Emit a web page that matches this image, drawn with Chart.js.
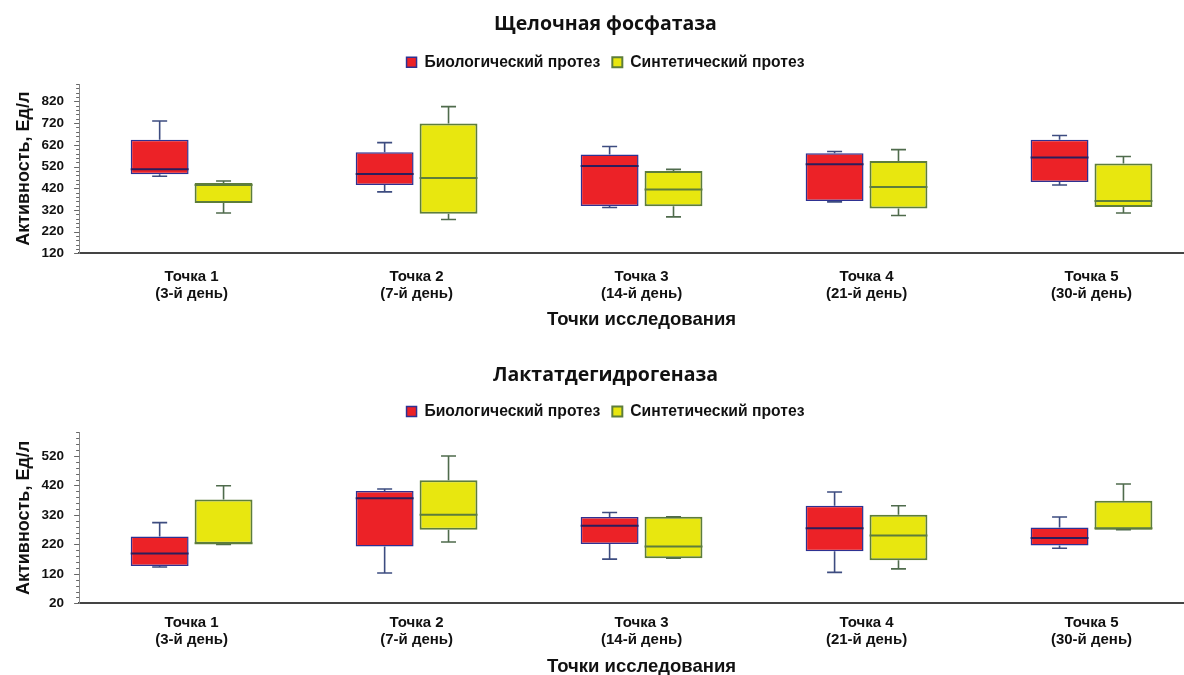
<!DOCTYPE html>
<html>
<head>
<meta charset="utf-8">
<script src="https://cdn.jsdelivr.net/npm/chart.js@4.4.1/dist/chart.umd.min.js"></script>
<style>
  html, body { margin: 0; padding: 0; background: #fff; overflow: hidden; width: 1184px; height: 675px; }
  .wrap { position: absolute; left: 0; width: 1204px; }
  #alpWrap { top: 0; height: 338px; }
  #ldhWrap { top: 338px; height: 340px; }
</style>
</head>
<body>
<div class="wrap" id="alpWrap"><canvas id="alpChart"></canvas></div>
<div class="wrap" id="ldhWrap"><canvas id="ldhChart"></canvas></div>
<script>
// Study points (x categories)
const categories = [
  ['Точка 1', '(3-й день)'],
  ['Точка 2', '(7-й день)'],
  ['Точка 3', '(14-й день)'],
  ['Точка 4', '(21-й день)'],
  ['Точка 5', '(30-й день)']
];
const seriesNames = ['Биологический протез', 'Синтетический протез'];

// Each entry: [min, Q1, median, Q3, max], U/L
const alpBio = [[475, 484, 508, 643, 730], [403, 435, 485, 586, 630], [331, 338, 522, 575, 612], [357, 361, 531, 581, 589], [435, 449, 562, 644, 663]];
const alpSyn = [[306, 352, 435, 444, 453], [276, 302, 467, 718, 796], [288, 337, 414, 499, 507], [294, 326, 426, 545, 598], [306, 334, 361, 534, 566]];
const ldhBio = [[143, 147, 189, 247, 294], [123, 213, 377, 401, 408], [170, 221, 283, 313, 328], [125, 197, 275, 351, 398], [207, 216, 242, 277, 313]];
const ldhSyn = [[220, 222, 224, 372, 419], [228, 270, 321, 438, 520], [173, 173, 213, 314, 314], [137, 166, 250, 321, 351], [270, 270, 275, 368, 425]];

// Y tick labels
const alpTicks = [120, 220, 320, 420, 520, 620, 720, 820];
const ldhTicks = [20, 120, 220, 320, 420, 520];

const FONT = "'Liberation Sans', Arial, sans-serif";

// Whiskers, caps and medians on top of the floating bars (Q1..Q3)
const boxWhiskers = {
  id: 'boxWhiskers',
  afterDatasetsDraw(chart) {
    const ctx = chart.ctx, ys = chart.scales.y;
    chart.data.datasets.forEach((ds, d) => {
      const meta = chart.getDatasetMeta(d);
      if (meta.hidden) return;
      meta.data.forEach((bar, i) => {
        const [mn, q1, md, q3, mx] = ds.stats[i];
        const x = bar.x, half = bar.width / 2, cap = 7.5;
        const pMin = ys.getPixelForValue(mn), pQ1 = ys.getPixelForValue(q1);
        const pMd = ys.getPixelForValue(md), pQ3 = ys.getPixelForValue(q3);
        const pMax = ys.getPixelForValue(mx);
        ctx.save();
        ctx.strokeStyle = ds.whiskerColor;
        ctx.lineWidth = 1.6;
        ctx.beginPath();
        ctx.moveTo(x, pQ3); ctx.lineTo(x, pMax);
        ctx.moveTo(x - cap, pMax); ctx.lineTo(x + cap, pMax);
        ctx.moveTo(x, pQ1); ctx.lineTo(x, pMin);
        ctx.moveTo(x - cap, pMin); ctx.lineTo(x + cap, pMin);
        ctx.stroke();
        ctx.strokeStyle = ds.medianColor;
        ctx.lineWidth = 2;
        ctx.beginPath();
        ctx.moveTo(x - half, pMd); ctx.lineTo(x + half, pMd);
        ctx.stroke();
        ctx.restore();
      });
    });
  }
};

// Dense minor ticks along the value axis
const axisTicks = {
  id: 'axisTicks',
  afterDraw(chart) {
    const ctx = chart.ctx, ys = chart.scales.y;
    const xr = ys.right;
    ctx.save();
    ctx.strokeStyle = '#666';
    ctx.lineWidth = 1;
    ctx.beginPath();
    for (let v = ys.min; v <= ys.max + 0.01; v += 20) {
      const p = Math.round(ys.getPixelForValue(v)) + 0.5;
      ctx.moveTo(xr - 3, p); ctx.lineTo(xr, p);
    }
    ys.ticks.forEach(t => {
      const p = Math.round(ys.getPixelForValue(t.value)) + 0.5;
      ctx.moveTo(xr - 5, p); ctx.lineTo(xr, p);
    });
    ctx.stroke();
    ctx.restore();
  }
};

// Extra room below the legend
function legendGap(extra) {
  return {
    id: 'legendGap',
    beforeInit(chart) {
      const fit = chart.legend.fit;
      chart.legend.fit = function () {
        fit.call(this);
        this.height += extra;
      };
    }
  };
}

function makeChart(id, title, bio, syn, yMin, yMax, tickList, lay) {
  return new Chart(document.getElementById(id), {
    type: 'bar',
    data: {
      labels: categories,
      datasets: [
        {
          label: seriesNames[0],
          data: bio.map(s => [s[1], s[3]]),
          stats: bio,
          backgroundColor: '#ec2227',
          borderColor: '#2e3192',
          borderWidth: 1.5,
          borderSkipped: false,
          whiskerColor: '#3d4c80',
          medianColor: '#2b1e5c',
          barPercentage: 0.906,
          categoryPercentage: 0.568
        },
        {
          label: seriesNames[1],
          data: syn.map(s => [s[1], s[3]]),
          stats: syn,
          backgroundColor: '#e8e70f',
          borderColor: '#5d7d3c',
          borderWidth: 2,
          borderSkipped: false,
          whiskerColor: '#4f6b4c',
          medianColor: '#5d7d3c',
          barPercentage: 0.906,
          categoryPercentage: 0.568
        }
      ]
    },
    options: {
      responsive: true,
      maintainAspectRatio: false,
      animation: false,
      layout: { padding: { left: 7, right: 0, top: 4, bottom: lay.padBottom } },
      plugins: {
        tooltip: { enabled: false },
        title: {
          display: true,
          text: title,
          color: '#111',
          font: { family: "'Open Sans', sans-serif", size: 19.5, weight: 'bold' },
          padding: { top: lay.titleTop, bottom: lay.titleBottom }
        },
        legend: {
          display: true,
          position: 'top',
          labels: {
            color: '#111',
            boxWidth: 10,
            boxHeight: 10,
            padding: 12,
            font: { family: FONT, size: 15.7, weight: 'bold' }
          }
        }
      },
      scales: {
        x: {
          grid: { display: false },
          border: { display: true, color: '#444', width: 2 },
          ticks: {
            color: '#111',
            padding: lay.xTickPad,
            maxRotation: 0,
            font: { family: FONT, size: 15, weight: 'bold', lineHeight: 1.15 }
          },
          title: {
            display: true,
            text: 'Точки исследования',
            color: '#111',
            font: { family: FONT, size: 18.5, weight: 'bold' },
            padding: { top: lay.xTitleTop, bottom: 0 }
          }
        },
        y: {
          min: yMin,
          max: yMax,
          afterBuildTicks(scale) {
            scale.ticks = tickList.map(v => ({ value: v }));
          },
          grid: { display: false },
          border: { display: true, color: '#888', width: 1 },
          ticks: {
            color: '#111',
            padding: 7,
            font: { family: FONT, size: 13.5, weight: 'bold' }
          },
          title: {
            display: true,
            text: 'Активность, Ед/л',
            color: '#111',
            font: { family: FONT, size: 18, weight: 'bold' },
            padding: { top: 6, bottom: 0 }
          }
        }
      }
    },
    plugins: [boxWhiskers, axisTicks, legendGap(lay.legendExtra)]
  });
}

makeChart('alpChart', 'Щелочная фосфатаза', alpBio, alpSyn, 120, 900, alpTicks,
  { titleTop: 9, titleBottom: 6, padBottom: 7, xTickPad: 6.5, xTitleTop: 0, legendExtra: 4 });
makeChart('ldhChart', 'Лактатдегидрогеназа', ldhBio, ldhSyn, 20, 600, ldhTicks,
  { titleTop: 21.6, titleBottom: 4.75, padBottom: 0, xTickPad: 3, xTitleTop: 4, legendExtra: 3 });
</script>
</body>
</html>
